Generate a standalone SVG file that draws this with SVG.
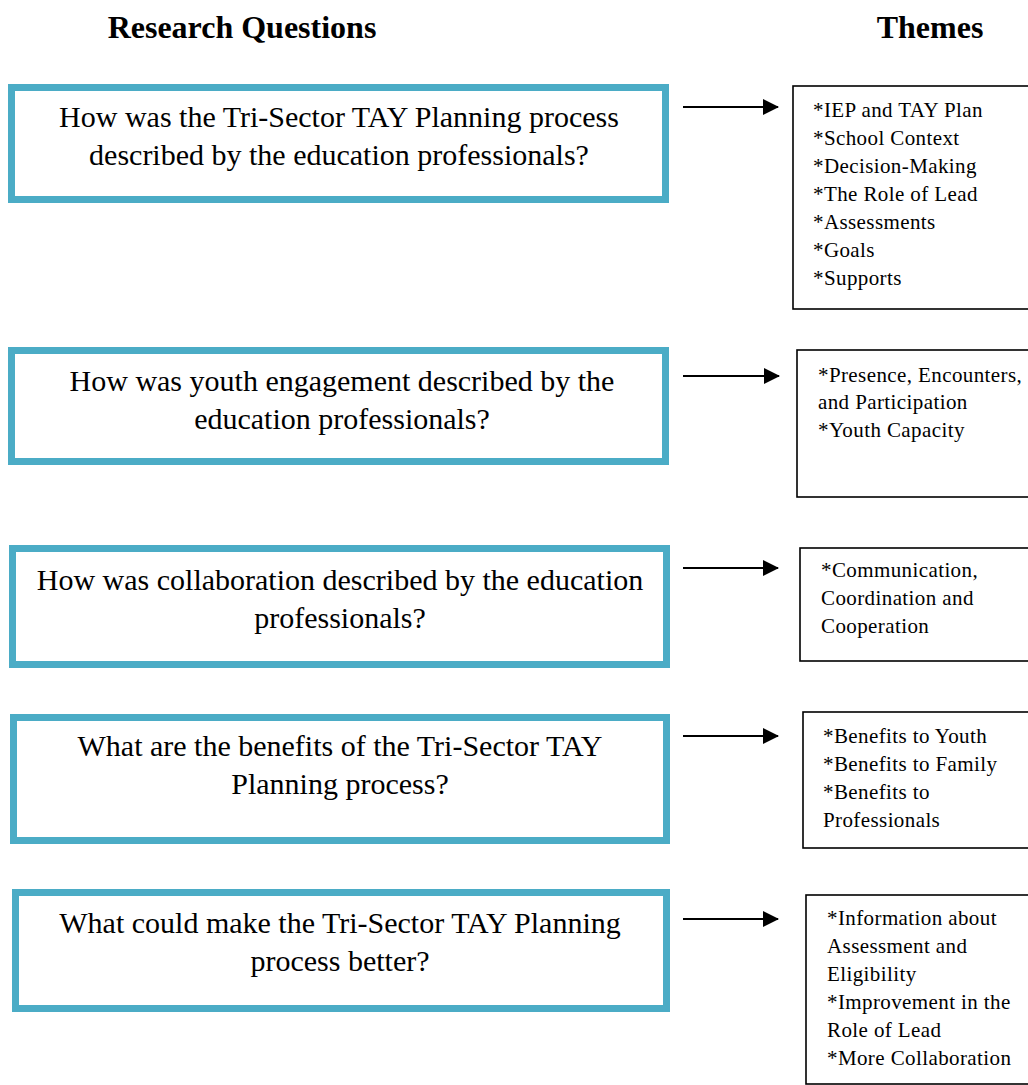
<svg xmlns="http://www.w3.org/2000/svg" width="1028" height="1085" viewBox="0 0 1028 1085">
<style>
.q{fill:#fff;stroke:#4BACC6;stroke-width:7}
.t{fill:#fff;stroke:#000;stroke-width:1.6}
.qt{font-family:"Liberation Serif","Times New Roman",serif;font-size:30px;fill:#000;text-anchor:middle}
.tt{font-family:"Liberation Serif","Times New Roman",serif;font-size:21px;letter-spacing:0.4px;fill:#000}
.h{font-family:"Liberation Serif","Times New Roman",serif;font-size:32px;font-weight:bold;fill:#000;text-anchor:middle}
.c{stroke:#000;stroke-width:2;fill:none}
</style>
<defs>
<marker id="ah" viewBox="0 0 16 16" refX="15" refY="8" markerWidth="16" markerHeight="16" markerUnits="userSpaceOnUse" orient="auto">
<path d="M0,0 L16,8 L0,16 Z" fill="#000"/>
</marker>
</defs>
<rect width="1028" height="1085" fill="#fff"/>
<g id="headers">
<text class="h" x="242" y="38">Research Questions</text>
<text class="h" x="930" y="38">Themes</text>
</g>
<g id="q1">
<rect class="q" x="11.5" y="87.5" width="654" height="112"/>
<text class="qt" x="339" y="127">How was the Tri-Sector TAY Planning process</text>
<text class="qt" x="339" y="165">described by the education professionals?</text>
</g>
<g id="q2">
<rect class="q" x="11.5" y="350.5" width="654" height="111"/>
<text class="qt" x="342" y="391">How was youth engagement described by the</text>
<text class="qt" x="342" y="429">education professionals?</text>
</g>
<g id="q3">
<rect class="q" x="12.5" y="548.5" width="654" height="116"/>
<text class="qt" x="340" y="590">How was collaboration described by the education</text>
<text class="qt" x="340" y="628">professionals?</text>
</g>
<g id="q4">
<rect class="q" x="13.5" y="717.5" width="653" height="123"/>
<text class="qt" x="340" y="756">What are the benefits of the Tri-Sector TAY</text>
<text class="qt" x="340" y="794">Planning process?</text>
</g>
<g id="q5">
<rect class="q" x="15.5" y="892.5" width="651" height="116"/>
<text class="qt" x="340" y="933">What could make the Tri-Sector TAY Planning</text>
<text class="qt" x="340" y="971">process better?</text>
</g>
<g id="t1">
<rect class="t" x="793" y="86" width="240" height="223"/>
<text class="tt" x="813" y="117">*IEP and TAY Plan</text>
<text class="tt" x="813" y="145">*School Context</text>
<text class="tt" x="813" y="173">*Decision-Making</text>
<text class="tt" x="813" y="201">*The Role of Lead</text>
<text class="tt" x="813" y="229">*Assessments</text>
<text class="tt" x="813" y="257">*Goals</text>
<text class="tt" x="813" y="285">*Supports</text>
</g>
<g id="t2">
<rect class="t" x="797" y="350" width="240" height="147"/>
<text class="tt" x="818" y="382">*Presence, Encounters,</text>
<text class="tt" x="818" y="409">and Participation</text>
<text class="tt" x="818" y="437">*Youth Capacity</text>
</g>
<g id="t3">
<rect class="t" x="800" y="548" width="240" height="113"/>
<text class="tt" x="821" y="577">*Communication,</text>
<text class="tt" x="821" y="605">Coordination and</text>
<text class="tt" x="821" y="633">Cooperation</text>
</g>
<g id="t4">
<rect class="t" x="803" y="712" width="240" height="136"/>
<text class="tt" x="823" y="743">*Benefits to Youth</text>
<text class="tt" x="823" y="771">*Benefits to Family</text>
<text class="tt" x="823" y="799">*Benefits to</text>
<text class="tt" x="823" y="827">Professionals</text>
</g>
<g id="t5">
<rect class="t" x="806" y="895" width="240" height="189"/>
<text class="tt" x="827" y="925">*Information about</text>
<text class="tt" x="827" y="953">Assessment and</text>
<text class="tt" x="827" y="981">Eligibility</text>
<text class="tt" x="827" y="1009">*Improvement in the</text>
<text class="tt" x="827" y="1037">Role of Lead</text>
<text class="tt" x="827" y="1065">*More Collaboration</text>
</g>
<g id="connectors">
<line class="c" x1="683" y1="107" x2="778" y2="107" marker-end="url(#ah)"/>
<line class="c" x1="683" y1="376" x2="779" y2="376" marker-end="url(#ah)"/>
<line class="c" x1="683" y1="568" x2="778" y2="568" marker-end="url(#ah)"/>
<line class="c" x1="683" y1="736" x2="778" y2="736" marker-end="url(#ah)"/>
<line class="c" x1="683" y1="919" x2="778" y2="919" marker-end="url(#ah)"/>
</g>
</svg>
